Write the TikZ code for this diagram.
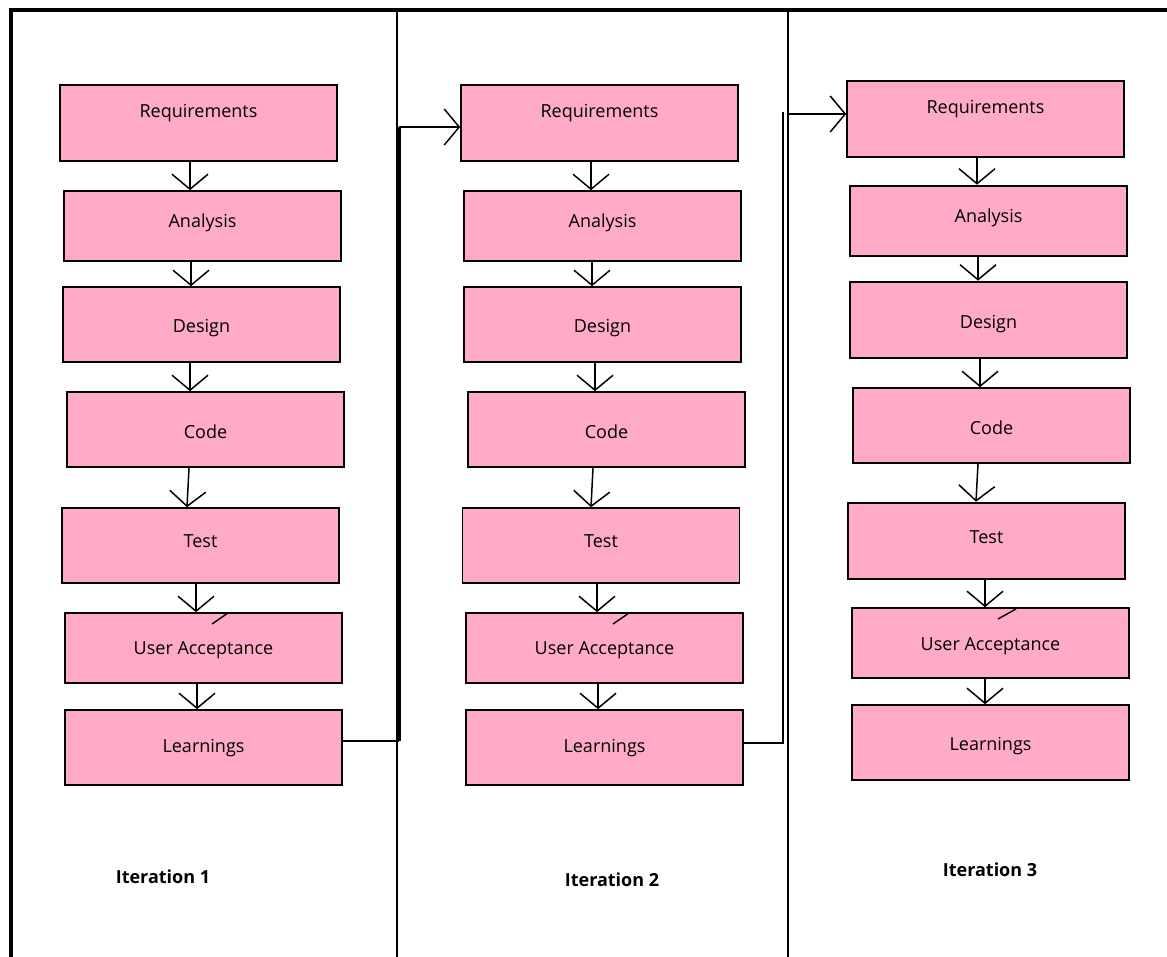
\documentclass[tikz,border=0pt]{standalone}
\usepackage{fontspec}
\setmainfont{Open Sans}
\usetikzlibrary{arrows.meta}
\definecolor{boxpink}{RGB}{255,171,199}
% label with a given baseline offset from the box centre
\newcommand{\boxtext}[2]{\raisebox{#1}[0pt][0pt]{#2}}

\begin{document}
\begin{tikzpicture}[x=1pt,y=-1pt,
  stage/.style={draw=black, line width=1.6pt, fill=boxpink, minimum width=277pt,
    inner sep=0pt, font=\fontsize{18}{21}\selectfont},
  heavy/.style={line width=2.6pt},
  flow/.style={line width=1.5pt, -{Straight Barb[length=15pt,width=36pt]}},
  feed/.style={line width=1.8pt},
  divider/.style={line width=1.8pt},
  frame/.style={line width=4pt},
  tick/.style={line width=1.4pt},
  itlabel/.style={font=\fontsize{18}{21}\selectfont\bfseries}]

\useasboundingbox (0,0) rectangle (1167,957);

% frame and column dividers
\draw[frame] (11,957) -- (11,10) -- (1167,10);
\draw[divider] (397,10) -- (397,957);
\draw[divider] (788,10) -- (788,957);

% ---------- iteration 1 ----------
\node[stage, minimum height=76pt] (r1) at (198.5,123)   {\boxtext{5pt}{Requirements}};
\node[stage, minimum height=70pt] (a1) at (202.5,226)   {\boxtext{-1.5pt}{Analysis}};
\node[stage, minimum height=75pt] (d1) at (201.5,324.5) {\boxtext{-8pt}{Design}};
\node[stage, minimum height=75pt] (c1) at (205.5,429.5) {\boxtext{-9pt}{Code}};
\node[stage, minimum height=75pt] (t1) at (200.5,545.5) {\boxtext{-2pt}{Test}};
\node[stage, minimum height=70pt] (u1) at (203.5,648)   {\boxtext{-6pt}{User Acceptance}};
\node[stage, minimum height=75pt] (l1) at (203.5,747.5) {\boxtext{-4.5pt}{Learnings}};

% ---------- iteration 2 ----------
\node[stage, minimum height=76pt] (r2) at (599.5,123)   {\boxtext{5pt}{Requirements}};
\node[stage, minimum height=70pt] (a2) at (602.5,226)   {\boxtext{-1.5pt}{Analysis}};
\node[stage, minimum height=75pt] (d2) at (602.5,324.5) {\boxtext{-8pt}{Design}};
\node[stage, minimum height=75pt] (c2) at (606.5,429.5) {\boxtext{-9pt}{Code}};
\node[stage, minimum height=75pt] (t2) at (601,545.5)   {\boxtext{-2pt}{Test}};
\node[stage, minimum height=70pt] (u2) at (604.5,648)   {\boxtext{-6pt}{User Acceptance}};
\node[stage, minimum height=75pt] (l2) at (604.5,747.5) {\boxtext{-4.5pt}{Learnings}};

% ---------- iteration 3 ----------
\node[stage, minimum height=76pt] (r3) at (985.5,119)          {\boxtext{5.5pt}{Requirements}};
\node[stage, heavy, minimum height=70pt] (a3) at (988.5,221)   {\boxtext{-1.5pt}{Analysis}};
\node[stage, heavy, minimum height=76pt] (d3) at (988.5,320)   {\boxtext{-8.5pt}{Design}};
\node[stage, minimum height=75pt] (c3) at (991.5,425.5)        {\boxtext{-9pt}{Code}};
\node[stage, heavy, minimum height=76pt] (t3) at (986.5,541)   {\boxtext{-2.5pt}{Test}};
\node[stage, minimum height=70pt] (u3) at (990.5,643)          {\boxtext{-7.5pt}{User Acceptance}};
\node[stage, minimum height=75pt] (l3) at (990.5,742.5)        {\boxtext{-8pt}{Learnings}};

% stray pen strokes at the top of the acceptance boxes
\draw[tick] (212,624) -- (228,613);
\draw[tick] (613,624) -- (629,613);
\draw[tick] (998,619) -- (1016,609);

% step arrows within each iteration
\draw[flow] (r1.south -| 190,0) -- (a1.north -| 190,0);
\draw[flow] (a1.south -| 191,0) -- (d1.north -| 191,0);
\draw[flow] (d1.south -| 190,0) -- (c1.north -| 190,0);
\draw[flow] (c1.south -| 189,0) -- (t1.north -| 187,0);
\draw[flow] (t1.south -| 196,0) -- (u1.north -| 196,0);
\draw[flow] (u1.south -| 197,0) -- (l1.north -| 197,0);

\draw[flow] (r2.south -| 591,0) -- (a2.north -| 591,0);
\draw[flow] (a2.south -| 592,0) -- (d2.north -| 592,0);
\draw[flow] (d2.south -| 595,0) -- (c2.north -| 595,0);
\draw[flow] (c2.south -| 593,0) -- (t2.north -| 591,0);
\draw[flow] (t2.south -| 597,0) -- (u2.north -| 597,0);
\draw[flow] (u2.south -| 598,0) -- (l2.north -| 598,0);

\draw[flow] (r3.south -| 977,0) -- (a3.north -| 977,0);
\draw[flow] (a3.south -| 978,0) -- (d3.north -| 978,0);
\draw[flow] (d3.south -| 980,0) -- (c3.north -| 980,0);
\draw[flow] (c3.south -| 978,0) -- (t3.north -| 976,0);
\draw[flow] (t3.south -| 985,0) -- (u3.north -| 985,0);
\draw[flow] (u3.south -| 985,0) -- (l3.north -| 985,0);

% learnings feed the next iteration
\coordinate (j1b) at (399,741);
\coordinate (j1t) at (399,127);
\draw[feed] (l1.east |- j1b) -- (j1b);
\draw[line width=3.5pt] (j1b) -- (j1t);
\draw[flow] (j1t) -- (j1t -| r2.west);

\coordinate (j2b) at (783,743);
\coordinate (j2t) at (783,112);
\coordinate (j3) at (788,114);
\draw[feed] (l2.east |- j2b) -- (j2b) -- (j2t);
\draw[flow] (j3) -- (j3 -| r3.west);

% iteration captions
\node[itlabel] (it1) at (163,877) {Iteration 1};
\node[itlabel] (it2) at (612,880) {Iteration 2};
\node[itlabel] (it3) at (990,870) {Iteration 3};
\end{tikzpicture}
\end{document}
